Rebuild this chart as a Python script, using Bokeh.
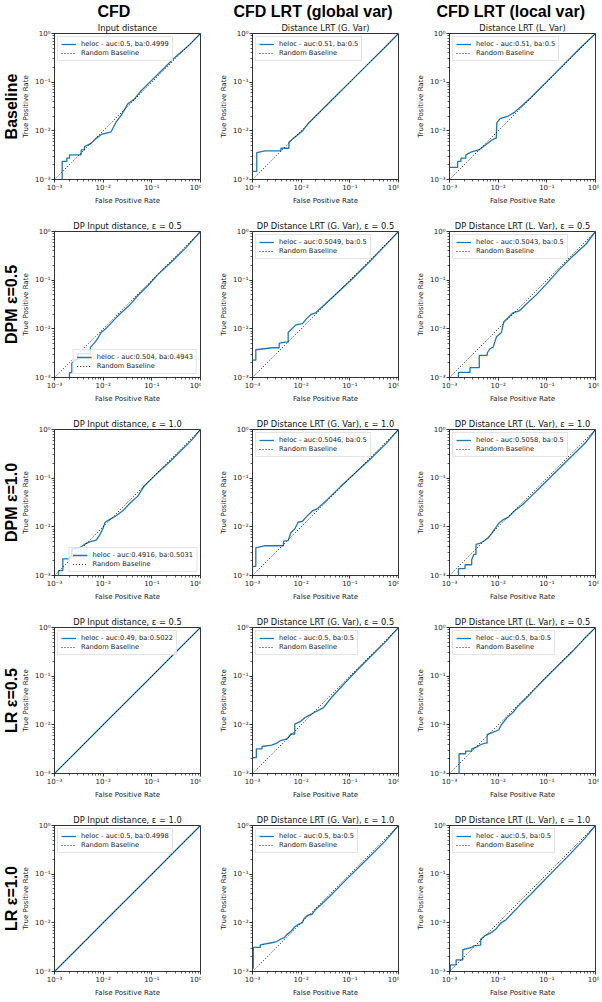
from bokeh.plotting import figure
from bokeh.layouts import gridplot
from bokeh.models import Title, FixedTicker, CustomJSTickFormatter
from bokeh.embed import file_html
from bokeh.resources import INLINE

# ---------------- text ----------------
COL_HEADERS = ["CFD", "CFD LRT (global var)", "CFD LRT (local var)"]
ROW_LABELS = ["Baseline", "DPM ε=0.5", "DPM ε=1.0", "LR ε=0.5", "LR ε=1.0"]
TITLES = [
    ["Input distance", "Distance LRT (G. Var)", "Distance LRT (L. Var)"],
    ["DP Input distance, ε = 0.5", "DP Distance LRT (G. Var), ε = 0.5", "DP Distance LRT (L. Var), ε = 0.5"],
    ["DP Input distance, ε = 1.0", "DP Distance LRT (G. Var), ε = 1.0", "DP Distance LRT (L. Var), ε = 1.0"],
    ["DP Input distance, ε = 0.5", "DP Distance LRT (G. Var), ε = 0.5", "DP Distance LRT (L. Var), ε = 0.5"],
    ["DP Input distance, ε = 1.0", "DP Distance LRT (G. Var), ε = 1.0", "DP Distance LRT (L. Var), ε = 1.0"],
]
LEGENDS = [
    ["heloc - auc:0.5, ba:0.4999", "heloc - auc:0.51, ba:0.5", "heloc - auc:0.51, ba:0.5"],
    ["heloc - auc:0.504, ba:0.4943", "heloc - auc:0.5049, ba:0.5", "heloc - auc:0.5043, ba:0.5"],
    ["heloc - auc:0.4916, ba:0.5031", "heloc - auc:0.5046, ba:0.5", "heloc - auc:0.5058, ba:0.5"],
    ["heloc - auc:0.49, ba:0.5022", "heloc - auc:0.5, ba:0.5", "heloc - auc:0.5, ba:0.5"],
    ["heloc - auc:0.5, ba:0.4998", "heloc - auc:0.5, ba:0.5", "heloc - auc:0.5, ba:0.5"],
]
LEGEND_LOC = [
    ["top_left", "top_left", "top_left"],
    ["bottom_right", "top_left", "top_left"],
    ["bottom_right", "top_left", "top_left"],
    ["top_left", "top_left", "top_left"],
    ["top_left", "top_left", "top_left"],
]
BASELINE_LABEL = "Random Baseline"
X_LABEL = "False Positive Rate"
Y_LABEL = "True Positive Rate"

TICKS = [1e-3, 1e-2, 1e-1, 1.0]
MINOR_TICKS = [m * d for d in (1e-3, 1e-2, 1e-1) for m in range(2, 10)]
BASELINE = [1e-3, 1.0]

# ---------------- ROC curves (read in log10 units) ----------------
BASE_CFD_FPR = [-2.842, -2.842, -2.747, -2.747, -2.692, -2.692, -2.452, -2.452, -2.384, -2.384, -2.247, -2.144,
                -2.041, -1.836, -1.733, -1.630, -1.493, -1.356, -1.219, -1.014, -0.808, -0.534, -0.260, 0]
BASE_CFD_TPR = [-3.1, -2.628, -2.628, -2.561, -2.561, -2.493, -2.493, -2.392, -2.392, -2.324, -2.257, -2.155,
                -2.074, -2.02, -1.818, -1.682, -1.446, -1.345, -1.176, -0.973, -0.770, -0.500, -0.264, 0]

BASE_GV_FPR = [-3, -2.912, -2.912, -2.741, -2.415, -2.415, -2.252, -2.252, -2.163, -2.061, -1.959, -1.857,
               -1.653, -1.313, -0.973, -0.633, -0.293, 0]
BASE_GV_TPR = [-2.831, -2.831, -2.446, -2.412, -2.412, -2.358, -2.358, -2.236, -2.155, -2.074, -1.986, -1.851,
               -1.649, -1.311, -0.973, -0.635, -0.297, 0]

BASE_LV_FPR = [-3, -2.832, -2.832, -2.765, -2.765, -2.664, -2.664, -2.564, -2.396, -2.262, -2.128, -2.060, -2.040,
               -2.027, -1.960, -1.792, -1.658, -1.490, -1.322, -0.987, -0.651, -0.315, 0]
BASE_LV_TPR = [-2.75, -2.75, -2.628, -2.628, -2.561, -2.561, -2.493, -2.439, -2.392, -2.291, -2.189, -2.155, -2.155,
               -1.831, -1.750, -1.696, -1.615, -1.466, -1.311, -0.973, -0.635, -0.297, 0]

DPM05_CFD_FPR = [-2.692, -2.692, -2.644, -2.644, -2.575, -2.521, -2.521, -2.260, -2.260, -2.178, -2.096, -2.041,
                 -1.959, -1.870, -1.767, -1.630, -1.459, -1.288, -1.082, -0.877, -0.603, -0.329, 0]
DPM05_CFD_TPR = [-3.1, -2.899, -2.899, -2.711, -2.631, -2.631, -2.510, -2.510, -2.376, -2.289, -2.174, -2.074,
                 -2.007, -1.919, -1.805, -1.671, -1.517, -1.315, -1.114, -0.886, -0.631, -0.362, 0]

DPM05_GV_FPR = [-3, -2.932, -2.932, -2.589, -2.452, -2.452, -2.315, -2.267, -2.267, -2.199, -2.110, -1.973,
                -1.884, -1.801, -1.699, -1.596, -1.322, -0.979, -0.637, -0.295, 0]
DPM05_GV_TPR = [-2.644, -2.644, -2.430, -2.389, -2.389, -2.295, -2.275, -2.275, -2.074, -2.007, -1.919, -1.893,
                -1.785, -1.705, -1.671, -1.570, -1.322, -1.0, -0.664, -0.31, 0]

DPM05_LV_FPR = [-2.816, -2.816, -2.578, -2.578, -2.388, -2.388, -2.224, -2.224, -2.170, -2.102, -2.034, -1.932,
                -1.884, -1.796, -1.694, -1.558, -1.422, -1.218, -1.014, -0.741, -0.469, -0.197, 0]
DPM05_LV_TPR = [-3.1, -2.893, -2.893, -2.799, -2.799, -2.544, -2.544, -2.497, -2.409, -2.376, -2.161, -2.074,
                -1.852, -1.772, -1.671, -1.624, -1.490, -1.302, -1.087, -0.779, -0.510, -0.262, 0]

DPM10_CFD_FPR = [-2.918, -2.918, -2.829, -2.829, -2.692, -2.692, -2.644, -2.644, -2.486, -2.384, -2.281, -2.144,
                 -2.075, -2.007, -1.959, -1.870, -1.733, -1.596, -1.425, -1.288, -1.151, -0.945, -0.671, -0.397,
                 -0.192, 0]
DPM10_CFD_TPR = [-3.1, -2.899, -2.899, -2.658, -2.658, -2.611, -2.611, -2.456, -2.430, -2.362, -2.309, -2.275,
                 -2.174, -2.040, -1.906, -1.852, -1.772, -1.671, -1.490, -1.369, -1.154, -0.953, -0.698, -0.430,
                 -0.228, 0]

DPM10_GV_FPR = [-3, -2.932, -2.932, -2.760, -2.363, -2.363, -2.267, -2.212, -2.130, -2.062, -1.973, -1.884,
                -1.767, -1.664, -1.459, -1.185, -0.911, -0.568, -0.260, 0]
DPM10_GV_TPR = [-2.812, -2.812, -2.430, -2.389, -2.389, -2.295, -2.282, -2.121, -2.040, -1.906, -1.886, -1.785,
                -1.671, -1.624, -1.436, -1.168, -0.913, -0.597, -0.295, 0]

DPM10_LV_FPR = [-2.816, -2.816, -2.680, -2.680, -2.544, -2.544, -2.497, -2.456, -2.456, -2.374, -2.272, -2.204,
                -2.136, -2.068, -1.980, -1.898, -1.796, -1.660, -1.490, -1.320, -1.150, -0.946, -0.707, -0.469,
                -0.197, 0]
DPM10_LV_TPR = [-3.1, -2.859, -2.859, -2.779, -2.779, -2.678, -2.564, -2.564, -2.362, -2.342, -2.275, -2.228,
                -2.141, -2.040, -1.919, -1.852, -1.805, -1.671, -1.537, -1.369, -1.201, -1.0, -0.765, -0.530,
                -0.262, 0]

LR05_CFD_FPR = [-3, -2.5, -2, -1.5, -1, -0.5, 0]
LR05_CFD_TPR = [-3, -2.5, -2, -1.5, -1, -0.5, 0]

LR05_GV_FPR = [-3, -2.921, -2.921, -2.803, -2.803, -2.605, -2.503, -2.424, -2.290, -2.211, -2.132, -2.132,
               -2.013, -1.919, -1.816, -1.698, -1.540, -1.382, -1.145, -0.908, -0.593, -0.277, 0]
LR05_GV_TPR = [-2.675, -2.675, -2.492, -2.492, -2.445, -2.418, -2.377, -2.323, -2.289, -2.188, -2.188, -1.984,
               -1.930, -1.849, -1.795, -1.727, -1.646, -1.443, -1.186, -0.935, -0.617, -0.305, 0]

LR05_LV_FPR = [-2.803, -2.803, -2.669, -2.669, -2.542, -2.542, -2.448, -2.353, -2.274, -2.227, -2.227, -2.116,
               -1.990, -1.934, -1.816, -1.698, -1.619, -1.500, -1.382, -1.224, -1.027, -0.790, -0.474, -0.238, 0]
LR05_LV_TPR = [-3.1, -2.594, -2.594, -2.540, -2.540, -2.492, -2.458, -2.404, -2.377, -2.377, -2.201, -2.154,
               -2.106, -1.998, -1.849, -1.747, -1.646, -1.524, -1.409, -1.240, -1.037, -0.800, -0.495, -0.238, 0]

LR10_CFD_FPR = [-3, -2.5, -2, -1.5, -1, -0.5, 0]
LR10_CFD_TPR = [-3, -2.5, -2, -1.5, -1, -0.5, 0]

LR10_GV_FPR = [-2.984, -2.984, -2.840, -2.840, -2.584, -2.504, -2.424, -2.344, -2.296, -2.240, -2.184, -2.136,
               -2.056, -1.976, -1.944, -1.864, -1.784, -1.704, -1.600, -1.400, -1.080, -0.680, -0.280, 0]
LR10_GV_TPR = [-2.946, -2.506, -2.506, -2.452, -2.404, -2.384, -2.337, -2.303, -2.242, -2.201, -2.147, -2.086,
               -2.032, -1.998, -1.917, -1.842, -1.829, -1.727, -1.632, -1.443, -1.118, -0.725, -0.326, 0]

LR10_LV_FPR = [-2.984, -2.984, -2.864, -2.864, -2.727, -2.727, -2.543, -2.503, -2.358, -2.358, -2.278, -2.142,
               -2.038, -1.941, -1.845, -1.717, -1.605, -1.476, -1.340, -1.140, -0.899, -0.578, -0.257, 0]
LR10_LV_TPR = [-3.1, -2.865, -2.865, -2.763, -2.763, -2.553, -2.506, -2.472, -2.458, -2.337, -2.269, -2.201,
               -2.120, -1.998, -1.944, -1.808, -1.693, -1.558, -1.422, -1.219, -0.969, -0.644, -0.305, 0]

CURVES = [
    [(BASE_CFD_FPR, BASE_CFD_TPR), (BASE_GV_FPR, BASE_GV_TPR), (BASE_LV_FPR, BASE_LV_TPR)],
    [(DPM05_CFD_FPR, DPM05_CFD_TPR), (DPM05_GV_FPR, DPM05_GV_TPR), (DPM05_LV_FPR, DPM05_LV_TPR)],
    [(DPM10_CFD_FPR, DPM10_CFD_TPR), (DPM10_GV_FPR, DPM10_GV_TPR), (DPM10_LV_FPR, DPM10_LV_TPR)],
    [(LR05_CFD_FPR, LR05_CFD_TPR), (LR05_GV_FPR, LR05_GV_TPR), (LR05_LV_FPR, LR05_LV_TPR)],
    [(LR10_CFD_FPR, LR10_CFD_TPR), (LR10_GV_FPR, LR10_GV_TPR), (LR10_LV_FPR, LR10_LV_TPR)],
]

# ---------------- styling ----------------
FONT = "DejaVu Sans"
BOLD_FONT = "Liberation Sans"
CURVE_COLOR = "#1f77b4"
FW, FH = 146, 146
LEFT_BORDER = [54, 51, 50]
RIGHT_BORDER = [1, 1, 4]
HEADER_OFFSET = [43, -19, -13]

JS_FMT = """
const sup = {"-": "\\u207b", "0": "\\u2070", "1": "\\u00b9", "2": "\\u00b2", "3": "\\u00b3",
             "4": "\\u2074", "5": "\\u2075", "6": "\\u2076", "7": "\\u2077", "8": "\\u2078", "9": "\\u2079"};
const e = Math.round(Math.log10(tick));
return "10" + String(e).split("").map(c => sup[c]).join("");
"""


def style_axis(ax):
    ax.ticker = FixedTicker(ticks=TICKS, minor_ticks=MINOR_TICKS)
    ax.formatter = CustomJSTickFormatter(code=JS_FMT)
    ax.axis_line_color = None
    ax.major_tick_line_color = "black"
    ax.minor_tick_line_color = "black"
    ax.major_tick_line_width = 0.8
    ax.minor_tick_line_width = 0.6
    ax.major_tick_out = 3
    ax.major_tick_in = 0
    ax.minor_tick_out = 2
    ax.minor_tick_in = 0
    ax.major_label_text_font = FONT
    ax.major_label_text_font_size = "7px"
    ax.major_label_text_color = "#222222"
    ax.major_label_standoff = 1
    ax.axis_label_text_font = FONT
    ax.axis_label_text_font_size = "7px"
    ax.axis_label_text_font_style = "normal"
    ax.axis_label_text_color = "#222222"
    ax.axis_label_standoff = 2


grid = []
for r in range(5):
    row = []
    for c in range(3):
        p = figure(
            x_axis_type="log", y_axis_type="log",
            x_range=(1e-3, 1.0), y_range=(1e-3, 1.0),
            frame_width=FW, frame_height=FH,
            min_border_left=LEFT_BORDER[c],
            min_border_right=RIGHT_BORDER[c],
            min_border_top=33 if r == 0 else 24,
            min_border_bottom=24,
            output_backend="svg", toolbar_location=None, title=None,
        )
        p.xgrid.visible = False
        p.ygrid.visible = False
        p.outline_line_color = "black"
        p.outline_line_width = 0.8
        p.outline_line_alpha = 1.0
        p.background_fill_color = "white"
        p.border_fill_color = "white"

        style_axis(p.xaxis[0])
        style_axis(p.yaxis[0])
        p.xaxis.axis_label = X_LABEL
        p.yaxis.axis_label = Y_LABEL

        fpr_log, tpr_log = CURVES[r][c]
        fpr = [10 ** v for v in fpr_log]
        tpr = [10 ** v for v in tpr_log]
        p.line(fpr, tpr, line_color=CURVE_COLOR, line_width=1.3, legend_label=LEGENDS[r][c])
        p.line(BASELINE, BASELINE, line_color="black", line_width=0.9, line_dash="1 2",
               legend_label=BASELINE_LABEL)

        lg = p.legend[0]
        lg.location = LEGEND_LOC[r][c]
        lg.margin = 3
        lg.padding = 3
        lg.spacing = 1
        lg.label_text_font = FONT
        lg.label_text_font_size = "6.7px"
        lg.label_text_color = "#222222"
        lg.label_height = 8
        lg.glyph_height = 8
        lg.glyph_width = 15
        lg.label_standoff = 5
        lg.border_line_color = "#cccccc"
        lg.border_line_width = 0.8
        lg.background_fill_alpha = 0.8

        p.add_layout(Title(text=TITLES[r][c], text_font=FONT, text_font_size="8.3px",
                           text_font_style="normal", text_color="#111111", align="center",
                           standoff=2), "above")
        if r == 0:
            p.add_layout(Title(text=COL_HEADERS[c], text_font=BOLD_FONT, text_font_size="16px",
                               text_font_style="bold", text_color="black", align="left",
                               offset=HEADER_OFFSET[c], standoff=0), "above")
        if c == 0:
            p.add_layout(Title(text=ROW_LABELS[r], text_font=BOLD_FONT, text_font_size="16px",
                               text_font_style="bold", text_color="black", align="center",
                               standoff=0), "left")
        row.append(p)
    grid.append(row)

layout = gridplot(grid, toolbar_location=None)
open("out.html", "w").write(file_html(layout, INLINE))
